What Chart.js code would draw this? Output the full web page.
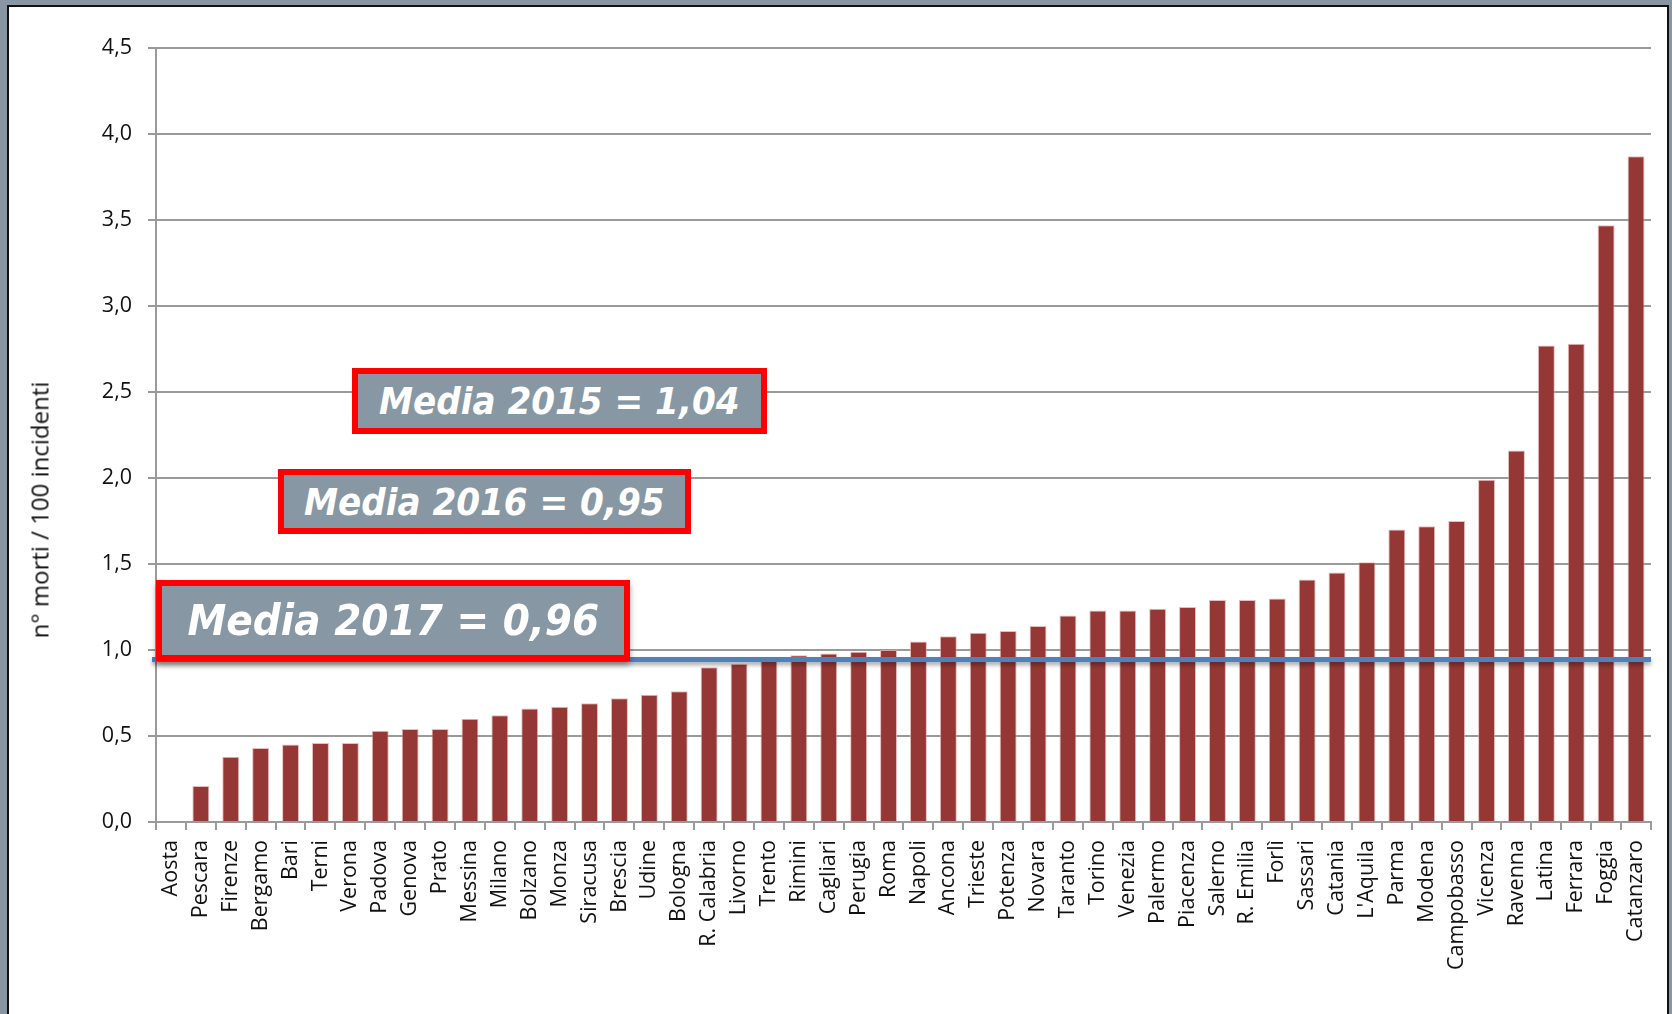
<!DOCTYPE html>
<html>
<head>
<meta charset="utf-8">
<script src="https://cdn.jsdelivr.net/npm/chart.js@4"></script>
<style>
    html, body { margin: 0; padding: 0; }
    body { width: 1672px; height: 1014px; background: #8796a2; position: relative; overflow: hidden; }
    #frame { position: absolute; left: 7px; top: 5px; width: 1662px; height: 1100px; box-sizing: border-box;
             border: 2px solid #111; background: #fff; }
    #chart { position: absolute; left: 0; top: 0; }
    #yTitle { position: absolute; left: 39px; top: 510px; transform: translate(-50%, -50%) rotate(-90deg);
              font: 24px "Open Sans", sans-serif; color: #111; white-space: nowrap; }
    .media { position: absolute; box-sizing: border-box; border: 6px solid #ff0000; background: #8797a3;
             display: flex; align-items: center; justify-content: center; overflow: visible; }
    .media span { display: inline-block; color: #fff; font-family: "DejaVu Sans", sans-serif;
                  font-weight: bold; font-style: italic; white-space: nowrap; }
    #m2015 { left: 352px; top: 368px; width: 415px; height: 66px; }
    #m2016 { left: 278px; top: 469px; width: 413px; height: 65px; }
    #m2017 { left: 156px; top: 580px; width: 474px; height: 81px; box-shadow: 0 4px 6px rgba(0,0,0,0.35); }
    #m2015 span, #m2016 span { font-size: 38px; transform: scaleX(0.9); }
    #m2017 span { font-size: 42px; transform: scaleX(0.93); }
</style>
</head>
<body>
<div id="frame"></div>
<canvas id="chart" width="1672" height="1014"></canvas>
<div id="yTitle"></div>
<div class="media" id="m2015"><span></span></div>
<div class="media" id="m2016"><span></span></div>
<div class="media" id="m2017"><span></span></div>
<script>
// Data
const cities = ['Aosta', 'Pescara', 'Firenze', 'Bergamo', 'Bari', 'Terni', 'Verona', 'Padova', 'Genova', 'Prato',
    'Messina', 'Milano', 'Bolzano', 'Monza', 'Siracusa', 'Brescia', 'Udine', 'Bologna', 'R. Calabria', 'Livorno',
    'Trento', 'Rimini', 'Cagliari', 'Perugia', 'Roma', 'Napoli', 'Ancona', 'Trieste', 'Potenza', 'Novara',
    'Taranto', 'Torino', 'Venezia', 'Palermo', 'Piacenza', 'Salerno', 'R. Emilia', 'Forlì', 'Sassari', 'Catania',
    "L'Aquila", 'Parma', 'Modena', 'Campobasso', 'Vicenza', 'Ravenna', 'Latina', 'Ferrara', 'Foggia', 'Catanzaro'];
const deathsPer100 = [0, 0.21, 0.38, 0.43, 0.45, 0.46, 0.46, 0.53, 0.54, 0.54,
    0.60, 0.62, 0.66, 0.67, 0.69, 0.72, 0.74, 0.76, 0.90, 0.92,
    0.95, 0.97, 0.98, 0.99, 1.00, 1.05, 1.08, 1.10, 1.11, 1.14,
    1.20, 1.23, 1.23, 1.24, 1.25, 1.29, 1.29, 1.30, 1.41, 1.45,
    1.51, 1.70, 1.72, 1.75, 1.99, 2.16, 2.77, 2.78, 3.47, 3.87];
const yMin = 0;
const yMax = 4.5;
const yStep = 0.5;
const media2017Line = 0.945;
const mediaLabels = ['Media 2015 = 1,04', 'Media 2016 = 0,95', 'Media 2017 = 0,96'];
const yTitle = 'n° morti / 100 incidenti';

document.getElementById('yTitle').textContent = yTitle;
document.querySelector('#m2015 span').textContent = mediaLabels[0];
document.querySelector('#m2016 span').textContent = mediaLabels[1];
document.querySelector('#m2017 span').textContent = mediaLabels[2];

// Horizontal average line drawn over the bars
const avgLinePlugin = {
    id: 'avgLine',
    afterDatasetsDraw(chart) {
        const ctx = chart.ctx;
        const area = chart.chartArea;
        const y = chart.scales.y.getPixelForValue(media2017Line);
        ctx.save();
        ctx.shadowColor = 'rgba(0,0,0,0.35)';
        ctx.shadowOffsetY = 3;
        ctx.shadowBlur = 4;
        ctx.strokeStyle = '#4f81bd';
        ctx.lineWidth = 5;
        ctx.beginPath();
        ctx.moveTo(area.left - 4, y);
        ctx.lineTo(area.right, y);
        ctx.stroke();
        ctx.restore();
    }
};

const axisGray = '#9a9a9a';
const labelFont = { family: '"Open Sans", sans-serif', size: 21.5 };

new Chart(document.getElementById('chart').getContext('2d'), {
    type: 'bar',
    data: {
        labels: cities,
        datasets: [{
            data: deathsPer100,
            backgroundColor: '#953735',
            borderColor: 'rgba(225,165,165,0.75)',
            borderWidth: 1,
            barPercentage: 0.567,
            categoryPercentage: 1.0
        }]
    },
    options: {
        responsive: false,
        animation: false,
        devicePixelRatio: 1,
        layout: { padding: { left: 0, top: 48, right: 16, bottom: 0 } },
        plugins: { legend: { display: false }, tooltip: { enabled: false } },
        scales: {
            x: {
                grid: { drawOnChartArea: false, offset: true, color: axisGray, lineWidth: 2, tickLength: 8 },
                border: { color: axisGray, width: 2 },
                ticks: {
                    autoSkip: false, maxRotation: 90, minRotation: 90, padding: 10,
                    color: '#111', font: labelFont
                },
                afterFit(scale) { scale.height = 192; }
            },
            y: {
                min: yMin,
                max: yMax,
                grid: { color: axisGray, lineWidth: 2, tickLength: 8 },
                border: { color: axisGray, width: 2 },
                ticks: {
                    stepSize: yStep, padding: 16, color: '#111', font: labelFont,
                    callback: (v) => v.toFixed(1).replace('.', ',')
                },
                afterFit(scale) { scale.width = 156; }
            }
        }
    },
    plugins: [avgLinePlugin]
});
</script>
</body>
</html>
